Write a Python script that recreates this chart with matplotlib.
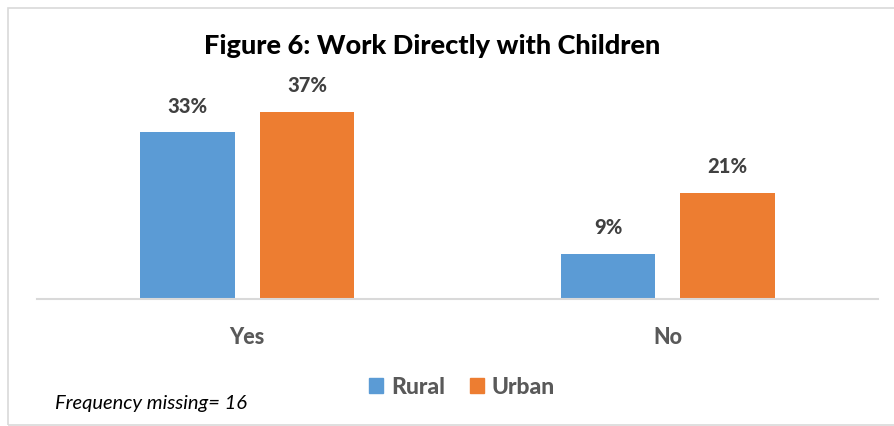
import matplotlib.pyplot as plt
from matplotlib.patches import Rectangle, Patch

categories = ['Yes', 'No']
rural = [33, 9]
urban = [37, 21]
series_names = ['Rural', 'Urban']
colors = ['#5B9BD5', '#ED7D31']

W, H = 894, 426
plt.rcParams['font.family'] = ['Lato', 'DejaVu Sans']

fig = plt.figure(figsize=(W / 100, H / 100), dpi=100)

# plot area in pixels: x 37..878, baseline y=299
ax = fig.add_axes([37 / W, (H - 299) / H, 841 / W, 202 / H])
x = range(len(categories))
off, bw = 0.142, 0.225
b1 = ax.bar([i - off for i in x], rural, bw, color=colors[0], label=series_names[0])
b2 = ax.bar([i + off for i in x], urban, bw, color=colors[1], label=series_names[1])
for bars in (b1, b2):
    ax.bar_label(bars, labels=[f'{v}%' for v in bars.datavalues], padding=12,
                 fontsize=14.5, fontweight='black', color='#404040')

ax.set_xlim(-0.5, 1.5)
ax.set_ylim(0, 40)
ax.set_xticks(list(x))
ax.set_xticklabels(categories, fontsize=15.5, fontweight='black', color='#595959')
ax.tick_params(axis='x', length=0, pad=20)
ax.set_yticks([])
for s in ['top', 'right', 'left']:
    ax.spines[s].set_visible(False)
ax.spines['bottom'].set_color('#D9D9D9')
ax.spines['bottom'].set_linewidth(1.5)

fig.text(432 / W, 1 - 46 / H, 'Figure 6: Work Directly with Children', ha='center', va='center',
         fontsize=19.5, fontweight='black', color='black')

handles = [Patch(color=c) for c in colors]
fig.legend(handles, series_names, loc='center', bbox_to_anchor=(462 / W, 1 - 387 / H),
           ncol=2, frameon=False, handlelength=0.6, handleheight=0.6, handletextpad=0.35,
           columnspacing=1.1, prop={'size': 16.5, 'weight': 'black'}, labelcolor='#595959')

fig.text(55 / W, 1 - 403 / H, 'Frequency missing= 16', ha='left', va='center',
         fontsize=14.5, style='italic', color='black')

fig.patches.append(Rectangle((8 / W, 1 - 425 / H), 1.0, 417 / H, transform=fig.transFigure,
                             fill=False, edgecolor='#D9D9D9', linewidth=1.2))

fig.savefig('out.png', dpi=100)
